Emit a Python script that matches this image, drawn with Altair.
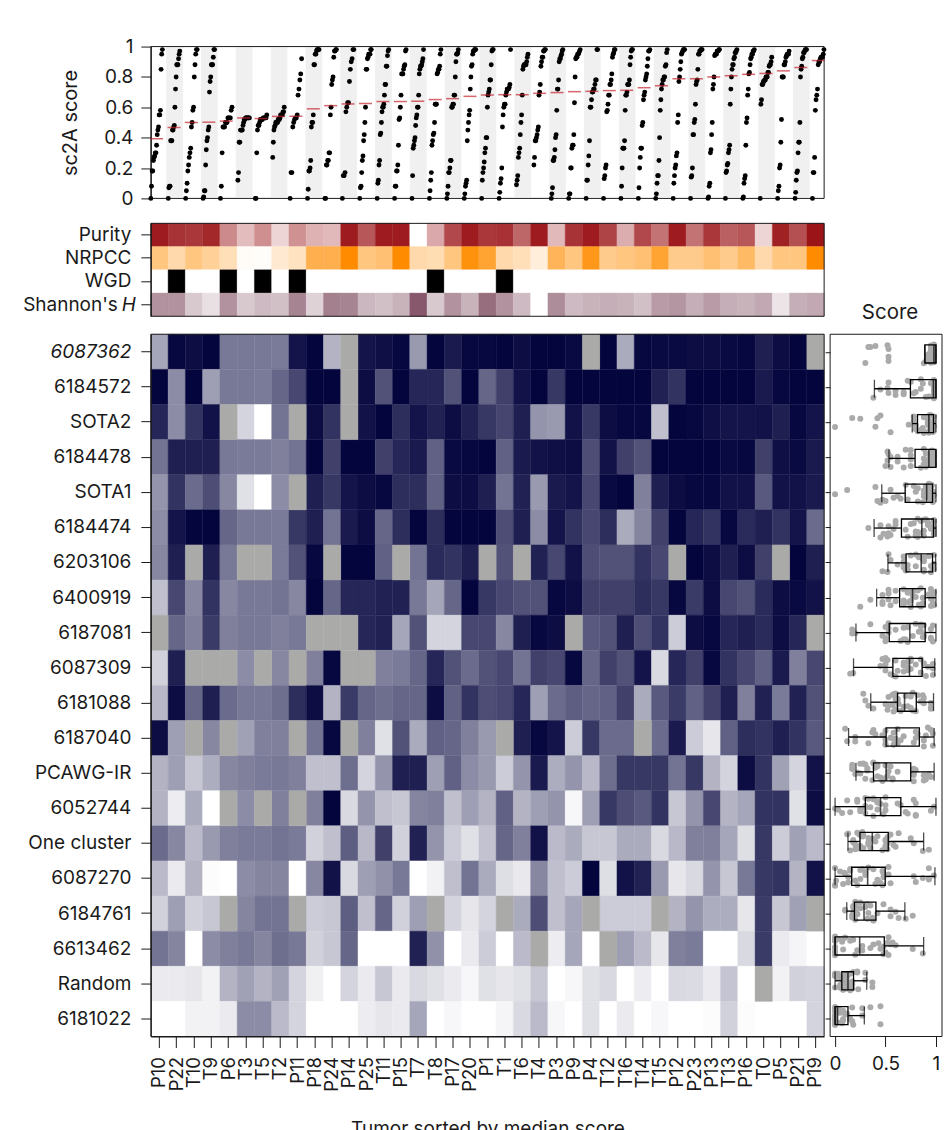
import altair as alt
import pandas as pd

FONT = "Inter"
INK = "#1a1a1a"
N = None

tumors = ["P10","P22","T10","T9","P6","T3","T5","T2","P11","P18","P24","P14","P25","T11","P15","T7","T8","P17","P20","P1",
          "T1","T6","T4","P3","P9","P4","T12","T16","T14","T15","P12","P23","P13","T13","P16","T0","P5","P21","P19"]
programs = ["6087362","6184572","SOTA2","6184478","SOTA1","6184474","6203106","6400919","6187081","6087309",
            "6181088","6187040","PCAWG-IR","6052744","One cluster","6087270","6184761","6613462","Random","6181022"]

scores = [
 [.35,.97,.95,.98,.53,.53,.53,.52,.92,.98,.3,N,.92,.94,.97,.4,.98,.9,.97,.97,.98,.95,.98,.98,.96,N,.98,.33,.97,.96,.96,.95,.95,.96,.97,.88,.95,.98,N],
 [.98,.45,.98,.38,.53,.53,.52,.6,.72,.98,.98,N,.95,.68,.98,.85,.85,.68,.98,.6,.75,.93,.98,.78,.98,.98,.98,.98,.98,.87,.8,.98,.98,.98,.98,.9,.97,.98,.98],
 [.85,.45,.8,.93,N,.17,0,.55,N,.95,.8,N,.93,.98,.82,.92,.87,.95,.87,.78,.73,.88,.42,.4,.93,.78,.95,.97,.97,.25,.98,.97,.94,.92,.92,.93,.88,.97,.92],
 [.55,.88,.88,.88,.53,.52,.52,.5,.55,.98,.75,.98,.98,.75,.85,.9,.62,.96,.97,.98,.62,.9,.93,.94,.95,.7,.93,.75,.68,.98,.98,.98,.98,.96,.97,.75,.94,.96,.9],
 [.42,.8,.58,.7,.47,.12,0,.45,N,.88,.78,.92,.95,.97,.82,.82,.62,.95,.95,.88,.55,.87,.4,.9,.92,.72,.96,.98,.5,.88,.95,.97,.97,.93,.93,.65,.93,.93,.9],
 [.45,.92,.98,.98,.6,.53,.53,.52,.78,.88,.55,.9,.95,.6,.82,.98,.82,.98,.98,.98,.7,.88,.45,.92,.8,.72,.82,.33,.48,.75,.98,.85,.8,.97,.83,.88,.8,.92,.58],
 [.47,.88,N,.88,.53,N,N,.52,.68,.97,N,.98,.98,.62,N,.55,.83,.8,.88,N,.68,N,.87,.72,.93,.7,.68,.68,.8,.72,N,.98,.95,.88,.95,.75,N,.98,.88],
 [.25,.72,.47,.8,.47,.53,.53,.55,.47,.98,.6,.85,.85,.87,.87,.53,.35,.6,.98,.78,.72,.68,.68,.97,.95,.75,.75,.75,.82,.78,.97,.77,.95,.72,.68,.83,.95,.96,.93],
 [N,.6,.5,.77,.5,.53,.53,.5,.53,N,N,N,.85,.87,.35,.68,.17,.17,.72,.72,.47,.88,.97,.95,N,.65,.68,.88,.7,.8,.2,.95,.97,.85,.88,.83,.95,.85,N],
 [.18,.88,N,N,N,.45,N,.47,N,.5,.97,N,N,.5,.52,.6,.85,.68,.58,.68,.72,.55,.75,.72,.97,.6,.75,.68,.92,.15,.85,.75,.97,.8,.72,.62,.9,.5,.72],
 [.28,.95,.6,.88,.58,.53,.53,.57,.82,.95,.3,.77,.6,.57,.6,.6,.95,.62,.8,.7,.72,.85,.38,.58,.63,.6,.62,.75,.33,.65,.77,.62,.75,.88,.5,.87,.52,.87,.68],
 [.95,.38,N,.47,N,.37,.5,.5,N,.55,.97,N,.5,.12,.68,.33,.62,.6,.5,.4,N,.88,.97,.92,.2,.78,.58,.58,N,.58,.9,.2,.1,.62,.82,.8,.88,.8,.65],
 [.3,.38,.22,.32,.47,.5,.52,.53,.5,.25,.25,.57,.17,.42,.88,.88,.38,.62,.45,.4,.2,.42,.9,.32,.42,.28,.57,.78,.78,.78,.55,.78,.3,.17,.95,.8,.37,.17,.93],
 [.3,.07,.33,0,N,.45,N,.5,N,.5,.98,.15,.42,.25,.22,.48,.5,.25,.38,.3,.62,.3,.38,.42,.03,.38,.78,.7,.65,.8,.22,.42,.72,.3,.35,.8,.8,.12,.95],
 [.58,.47,.27,.4,.5,.52,.52,.55,.52,.18,.25,.63,.28,.75,.18,.87,.42,.2,.12,.24,.6,.5,.93,.27,.33,.22,.22,.33,.33,.15,.28,.5,.5,.35,.13,.78,.2,.37,.27],
 [.27,.08,.3,.01,0,.45,.48,.48,0,.47,.93,.15,.38,.43,.53,0,.05,.25,.55,.33,.13,.09,.47,.25,.2,.98,.13,.93,.87,.4,.1,.15,.42,.22,.53,.78,.8,.3,.93],
 [.18,.38,.18,.22,N,.48,.55,.55,N,.2,.22,.63,.25,.6,.18,.38,N,.17,.1,.17,N,.33,.7,.25,.35,N,.2,.2,.2,N,.3,.42,.32,.32,.1,.77,.22,.37,N],
 [.55,.48,0,.45,.5,.53,.48,.57,.53,.18,.22,.6,0,0,0,.87,.43,0,.08,.2,0,.27,N,.07,.35,0,N,.38,.27,.1,.5,.52,0,0,.15,.77,.08,.04,0],
 [.08,.08,.1,.05,.3,.37,.3,.37,.17,.06,0,.17,.08,.22,.08,.15,.12,.08,.03,.12,.1,.12,.22,0,.03,.12,.15,0,.07,0,.15,.14,.08,.23,0,N,.05,.18,.17],
 [0,0,.05,.05,.08,.45,.45,.27,.17,0,0,0,.07,.1,.08,.35,0,.03,0,0,.04,.15,.27,.03,0,.12,0,.08,0,.03,0,0,.01,.18,.01,0,0,0,.17],
]

medians = [.393,.467,.50,.502,.509,.53,.526,.54,.541,.59,.611,.622,.625,.638,.638,.64,.651,.657,.672,.681,
           .683,.683,.692,.697,.703,.705,.71,.712,.729,.742,.788,.788,.80,.808,.817,.823,.84,.862,.908]

purity = [.97,.87,.85,.92,.5,.28,.48,.18,.47,.33,.3,.97,.72,.97,.97,0,.37,.78,.97,.85,.88,.65,.97,.3,.87,.97,.8,.35,.78,.6,.97,.6,.85,.68,.72,.18,.95,.75,1]
nrpcc = [.5,.33,.5,.4,.28,.03,.02,.18,.25,.7,.7,1,.5,.55,1,.33,.3,.5,.95,.8,.33,.28,.15,.65,.5,.9,.45,.5,.55,.8,.45,.45,.55,.45,.6,.33,.5,.5,1]
wgd = [0,1,0,0,1,0,1,0,1,0,0,0,0,0,0,0,1,0,0,0,1,0,0,0,0,0,0,0,0,0,0,0,0,0,0,0,0,0,0]
shannon = [.6,.6,.3,.17,.6,.3,.38,.35,.68,.25,.7,.68,.4,.35,.42,.92,.3,.6,.42,.8,.6,.38,0,.63,.38,.42,.45,.42,.35,.55,.58,.45,.55,.45,.42,.48,.15,.45,.48]
annot_names = ["Purity","NRPCC","WGD","Shannon's H"]

box_lo  = [.89,.39,.765,.534,.463,.387,.524,.412,.207,.183,.354,.134,.207,0,.128,0,.116,0,0,0]
box_q1  = [.89,.747,.817,.793,.695,.658,.704,.64,.537,.573,.619,.506,.381,.3,.247,.165,.192,0,.067,0]
box_med = [.98,.975,.93,.93,.908,.86,.854,.768,.741,.738,.689,.61,.506,.451,.369,.323,.287,.244,.128,.024]
box_q3  = [1,1,.976,1,.966,.976,.966,.893,.893,.863,.805,.835,.75,.652,.527,.497,.405,.488,.183,.128]
box_hi  = [1,1,1,1,1,1,.997,1,1,.988,.976,.982,.982,1,.878,.99,.692,.878,.314,.29]
jitter = [-.2,.15,-.05,.24,-.14,.08,.2,-.25,.02,-.1,.26,-.18,.12,-.02,.18,-.23,.05,.22,-.08,-.16,
          .1,.25,-.27,.0,.16,-.12,.06,-.2,.22,-.04,.13,-.24,.19,-.09,.03,.27,-.15,.09,-.21]

# ---------- long tables
cells = [{"tumor": t, "program": p, "value": scores[i][j], "col": j, "row": i}
         for i, p in enumerate(programs) for j, t in enumerate(tumors)]
cells_df = pd.DataFrame(cells)
heat_df = cells_df[cells_df["value"].notna()].copy()
na_df = cells_df[cells_df["value"].isna()].copy()

top_rows = []
for j in range(len(tumors)):
    vals = sorted(scores[i][j] for i in range(len(programs)) if scores[i][j] is not None)
    for r, v in enumerate(vals):
        top_rows.append({"xpos": j + 0.66 * r / (len(vals) - 1), "score": v})
top_df = pd.DataFrame(top_rows)
med_df = pd.DataFrame({"xpos": [j + 0.33 for j in range(len(tumors))], "score": medians})
band_df = pd.DataFrame({"x0": [j - 0.12 for j in range(1, len(tumors), 2)],
                        "x1": [j + 0.84 for j in range(1, len(tumors), 2)],
                        "score": [0.01] * (len(tumors) // 2), "score2": [0.995] * (len(tumors) // 2)})
one = pd.DataFrame({"a": [1]})

W, H_TOP, H_ANN, H_HEAT, W_BOX = 674, 152, 93, 703, 112
FS = 19

def frame(w, h):
    return alt.Chart(one).mark_rect(filled=False, stroke=INK, strokeWidth=1).encode(
        x=alt.value(0), x2=alt.value(w), y=alt.value(0), y2=alt.value(h))

# ---------- top panel
xs_top = alt.Scale(domain=[0, 38.67], nice=False, zero=False)
ys_top = alt.Scale(domain=[0, 1], nice=False)
ax_xtop = alt.Axis(title=None, labels=False, domain=False, grid=False, tickSize=15, tickOpacity=0, values=[0])
ax_ytop = alt.Axis(title="sc2A score", titleFontSize=20, titleFontWeight="normal", titlePadding=23,
                   values=[0, .2, .4, .6, .8, 1], format="~g", grid=False, tickSize=10,
                   labelFontSize=FS, labelPadding=8, domain=True, labelColor=INK, titleColor=INK,
                   tickColor=INK, domainColor=INK, labelOverlap=False, labelFlush=False)
bands = alt.Chart(band_df).mark_rect(color="#f0f0f0").encode(
    x=alt.X("x0:Q", scale=xs_top, axis=ax_xtop), x2="x1:Q",
    y=alt.Y("score:Q", scale=ys_top, axis=ax_ytop), y2="score2:Q")
dots = alt.Chart(top_df).mark_circle(size=24, color="#000000", opacity=1).encode(
    x=alt.X("xpos:Q", scale=xs_top, axis=ax_xtop), y=alt.Y("score:Q", scale=ys_top, axis=ax_ytop))
dashes = alt.Chart(med_df).mark_tick(orient="horizontal", size=13, thickness=1.5, color="#c4242e").encode(
    x=alt.X("xpos:Q", scale=xs_top, axis=ax_xtop), y=alt.Y("score:Q", scale=ys_top, axis=ax_ytop))
top = alt.layer(bands, frame(W, H_TOP), dots, dashes).properties(width=W, height=H_TOP)

# ---------- annotation strip
ann_df = pd.DataFrame({"tumor": tumors * 4,
                       "name": sum([[n] * len(tumors) for n in annot_names], []),
                       "value": purity + nrpcc + wgd + shannon})
x_ann = alt.X("tumor:N", scale=alt.Scale(domain=tumors, paddingInner=0, paddingOuter=0), axis=None)
y_ann = alt.Y("name:N", scale=alt.Scale(domain=annot_names, paddingInner=0, paddingOuter=0),
              axis=alt.Axis(title=None, tickSize=10, labelFontSize=FS, labelPadding=10, grid=False,
                            labelColor=INK, tickColor=INK, domainColor=INK,
                            labelExpr="datum.value == \"Shannon's H\" ? '' : datum.label"))
ranges = {"Purity": ["#ffffff", "#9b1518"], "NRPCC": ["#ffffff", "#ff8c00"],
          "WGD": ["#ffffff", "#000000"], "Shannon's H": ["#ffffff", "#7d4a5e"]}
ann_layers = []
for n in annot_names:
    sc = alt.Scale(domain=[0, 1], range=ranges[n], interpolate="rgb")
    ann_layers.append(alt.Chart(ann_df[ann_df["name"] == n]).mark_rect(strokeWidth=0.4).encode(
        x=x_ann, y=y_ann,
        color=alt.Color("value:Q", scale=sc, legend=None),
        stroke=alt.Stroke("value:Q", scale=sc, legend=None)))
sh1 = alt.Chart(pd.DataFrame({"name": ["Shannon's H"], "t": ["Shannon's"]})).mark_text(
    align="right", baseline="middle", font=FONT, fontSize=FS, color=INK, x=-33).encode(
    y=alt.Y("name:N"), text="t:N")
sh2 = alt.Chart(pd.DataFrame({"name": ["Shannon's H"], "t": ["H"]})).mark_text(
    align="right", baseline="middle", font=FONT, fontSize=FS, fontStyle="italic", color=INK, x=-15).encode(
    y=alt.Y("name:N"), text="t:N")
annot = alt.layer(*ann_layers, frame(W, H_ANN), sh1, sh2).resolve_scale(color="independent", stroke="independent").properties(width=W, height=H_ANN)

# ---------- heat map
x_heat = alt.X("tumor:N", sort=tumors, scale=alt.Scale(domain=tumors, paddingInner=0, paddingOuter=0),
               axis=alt.Axis(title="Tumor sorted by median score", titleFontSize=19, titleFontWeight="normal",
                             titlePadding=28, labelAngle=270, labelFontSize=18.5, tickSize=11, labelPadding=9,
                             grid=False, labelColor=INK, titleColor=INK, tickColor=INK, domainColor=INK))
y_heat = alt.Y("program:N", sort=programs, scale=alt.Scale(domain=programs, paddingInner=0, paddingOuter=0),
               axis=alt.Axis(title=None, tickSize=10, labelFontSize=FS, labelPadding=10, grid=False,
                             labelColor=INK, tickColor=INK, domainColor=INK,
                             labelFontStyle=alt.expr("datum.value == '6087362' ? 'italic' : 'normal'")))
heat_sc = alt.Scale(domain=[0, 1], range=["#ffffff", "#00003a"], interpolate="rgb")
heat_rect = alt.Chart(heat_df).mark_rect(strokeWidth=0.4).encode(
    x=x_heat, y=y_heat,
    color=alt.Color("value:Q", scale=heat_sc, legend=None),
    stroke=alt.Stroke("value:Q", scale=heat_sc, legend=None))
na_rect = alt.Chart(na_df).mark_rect(color="#aaaaa8", stroke="#aaaaa8", strokeWidth=0.4).encode(x=x_heat, y=y_heat)
heat = alt.layer(heat_rect, na_rect, frame(W, H_HEAT)).properties(width=W, height=H_HEAT)

# ---------- box panel
Y_DOM = [0.435, 20.6]
rows = [i + 1 for i in range(len(programs))]
box_df = pd.DataFrame({"row": rows, "lo": box_lo, "q1": box_q1, "med": box_med, "q3": box_q3, "hi": box_hi})
box_df["top"] = box_df["row"] - 0.26
box_df["bot"] = box_df["row"] + 0.26
pt_df = heat_df.copy()
pt_df["y"] = [r + 1 + jitter[(c + 7 * r) % len(jitter)] for r, c in zip(pt_df["row"], pt_df["col"])]
row_ticks = [Y_DOM[0] + (Y_DOM[1] - Y_DOM[0]) * (i + .5) / 20 for i in range(20)]

xs_box = alt.Scale(domain=[-0.049, 1.06], nice=False, zero=False)
ys_box = alt.Scale(domain=Y_DOM, reverse=True, nice=False, zero=False)
ax_xbox = alt.Axis(title=None, values=[0, .5, 1], format="~g", tickSize=10, labelFontSize=FS, labelPadding=8,
                   grid=False, domain=False, labelColor=INK, tickColor=INK, labelFlush=False, labelOverlap=False)
ax_ybox = alt.Axis(title=None, values=row_ticks, labels=False, tickSize=5, grid=False, domain=False, tickColor=INK)
LW = 1.3
def X_(f):
    return alt.X(f + ":Q", scale=xs_box, axis=ax_xbox)
def Y_(f):
    return alt.Y(f + ":Q", scale=ys_box, axis=ax_ybox)
pts = alt.Chart(pt_df).mark_circle(size=36, color="#aaaaaa", opacity=1).encode(x=X_("value"), y=Y_("y"))
whisk1 = alt.Chart(box_df).mark_rule(color="#000", strokeWidth=LW).encode(x=X_("lo"), x2="q1:Q", y=Y_("row"))
whisk2 = alt.Chart(box_df).mark_rule(color="#000", strokeWidth=LW).encode(x=X_("q3"), x2="hi:Q", y=Y_("row"))
boxes = alt.Chart(box_df).mark_rect(filled=False, stroke="#000", strokeWidth=LW).encode(
    x=X_("q1"), x2="q3:Q", y=Y_("top"), y2="bot:Q")
def vtick(field, w=LW):
    return alt.Chart(box_df).mark_tick(orient="vertical", size=18, thickness=w, color="#000").encode(
        x=X_(field), y=Y_("row"))
box_panel = alt.layer(frame(W_BOX, H_HEAT), pts, whisk1, whisk2, boxes, vtick("lo"), vtick("hi"), vtick("med", 1.6)).properties(
    width=W_BOX, height=H_HEAT)

# ---------- spacers
spacer = alt.Chart(one).mark_text(text="", opacity=0).encode(x=alt.value(0), y=alt.value(0)).properties(
    width=W_BOX, height=H_TOP, view=alt.ViewBackground(stroke="transparent"))
score_title = alt.Chart(pd.DataFrame({"t": ["Score"]})).mark_text(
    font=FONT, fontSize=20.5, color=INK, baseline="middle", align="center").encode(
    x=alt.value(60), y=alt.value(90), text="t:N").properties(
    width=W_BOX, height=H_ANN, view=alt.ViewBackground(stroke="transparent"))

chart = alt.concat(top, spacer, annot, score_title, heat, box_panel, columns=2,
                   spacing=alt.RowColnumber(row=9, column=-3)).properties(
    padding={"left": 15, "top": 29, "right": 0, "bottom": 0}
).configure_view(stroke=None).configure_axis(labelFont=FONT, titleFont=FONT)

chart.save("out.html", embed_options={"renderer": "svg", "actions": False})
